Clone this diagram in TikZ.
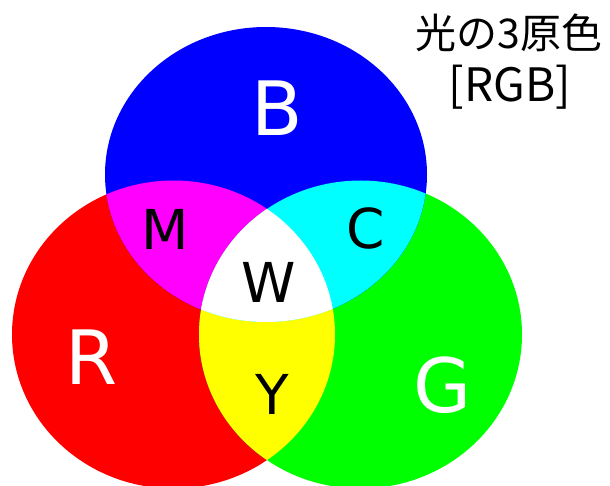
\documentclass[tikz,border=0pt]{standalone}
\usepackage{fontspec}
\setmainfont{DejaVu Sans}
\newfontfamily\jpfont{Noto Sans CJK JP}
\definecolor{pR}{RGB}{255,0,0}
\definecolor{pG}{RGB}{0,255,0}
\definecolor{pB}{RGB}{0,0,255}
\definecolor{pM}{RGB}{255,0,255}
\definecolor{pC}{RGB}{0,255,255}
\definecolor{pY}{RGB}{255,255,0}
\begin{document}
\begin{tikzpicture}[x=1pt,y=-1pt,
  biglab/.style={inner sep=0pt, text=white, font=\fontsize{75}{75}\selectfont},
  midlab/.style={inner sep=0pt, text=black, font=\fontsize{55}{55}\selectfont},
  titlelab/.style={inner sep=0pt, text=black, font=\jpfont\fontsize{41}{41}\selectfont}]
\useasboundingbox (0,0) rectangle (610,486);
\fill[white] (0,0) rectangle (610,486);
\coordinate (cB) at (266,174.5);
\coordinate (cR) at (173.5,334.5);
\coordinate (cG) at (360.5,334.5);
% base discs
\fill[pR] (cR) ellipse [x radius=161.5pt, y radius=154pt];
\fill[pG] (cG) ellipse [x radius=161.5pt, y radius=154pt];
\fill[pB] (cB) ellipse [x radius=161pt, y radius=147.5pt];
% overlaps with red
\begin{scope}
  \clip (cR) ellipse [x radius=161.5pt, y radius=154pt];
  \fill[pM] (cB) ellipse [x radius=161pt, y radius=147.5pt];
  \fill[pY] (cG) ellipse [x radius=161.5pt, y radius=154pt];
\end{scope}
% overlap green-blue
\begin{scope}
  \clip (cG) ellipse [x radius=161.5pt, y radius=154pt];
  \fill[pC] (cB) ellipse [x radius=161pt, y radius=147.5pt];
\end{scope}
% triple overlap
\begin{scope}
  \clip (cR) ellipse [x radius=161.5pt, y radius=154pt];
  \clip (cG) ellipse [x radius=161.5pt, y radius=154pt];
  \fill[white] (cB) ellipse [x radius=161pt, y radius=147.5pt];
\end{scope}
% labels
\node[biglab] (lB) at (277,108) {B};
\node[biglab] (lR) at (92,357) {R};
\node[biglab] (lG) at (443,385) {G};
\node[midlab] (lM) at (165,229) {M};
\node[midlab] (lC) at (366,228) {C};
\node[midlab] (lW) at (269,282) {W};
\node[midlab] (lY) at (272,394) {Y};
\node[titlelab] (t1) at (509,33) {光の3原色};
\node[titlelab, font=\jpfont\fontsize{46}{46}\selectfont] (t2) at (510,87) {[RGB]};
\end{tikzpicture}
\end{document}
